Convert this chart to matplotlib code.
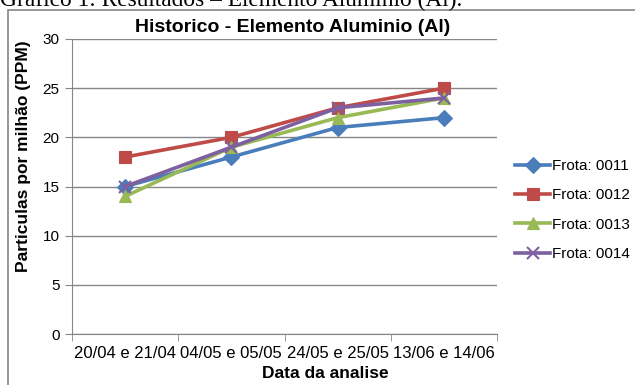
import numpy as np
import matplotlib.pyplot as plt
from matplotlib.patches import Rectangle

# data
datas = ['20/04 e 21/04', '04/05 e 05/05', '24/05 e 25/05', '13/06 e 14/06']
frota_0011 = [15, 18, 21, 22]
frota_0012 = [18, 20, 23, 25]
frota_0013 = [14, 19, 22, 24]
frota_0014 = [15, 19, 23, 24]
nomes = ['Frota: 0011', 'Frota: 0012', 'Frota: 0013', 'Frota: 0014']
yticks = [0, 5, 10, 15, 20, 25, 30]

W, H = 635, 385
fig = plt.figure(figsize=(W / 100, H / 100), dpi=100)
plt.rcParams['font.family'] = ['Liberation Sans', 'DejaVu Sans']

def fx(px):
    return px / W

def fy(py):
    return 1 - py / H

# plot area in pixels: left 72, right 497, top 39, bottom 334
ax = fig.add_axes([fx(72), fy(334), fx(497) - fx(72), fy(39) - fy(334)])

grey = '#868686'
cores = ['#4A7EBB', '#BE4B48', '#98B954', '#7D60A0']
marcas = ['D', 's', '^', 'x']
tams = [8, 9, 9, 9]

x = np.arange(len(datas))
series = [frota_0011, frota_0012, frota_0013, frota_0014]
for s, nome, c, m, ms in zip(series, nomes, cores, marcas, tams):
    ax.plot(x, s, color=c, lw=2.6, marker=m, markersize=ms,
            markeredgewidth=1.5 if m == 'x' else 0.8, label=nome, zorder=3)

ax.set_xlim(-0.5, len(datas) - 0.5)
ax.set_ylim(0, 30)
ax.set_yticks(yticks)
ax.set_xticks(x)
ax.set_xticklabels(datas, fontsize=12)
ax.set_xticks(np.arange(-0.5, len(datas), 1), minor=True)
ax.tick_params(axis='x', which='major', length=0, pad=9)
ax.tick_params(axis='x', which='minor', length=5, color=grey, direction='out')
ax.tick_params(axis='y', length=5, color=grey, direction='out', labelsize=11, pad=4)
ax.grid(axis='y', color=grey, lw=1)
ax.set_axisbelow(True)
for side in ['top', 'right']:
    ax.spines[side].set_visible(False)
ax.spines['left'].set_color(grey)
ax.spines['bottom'].set_color(grey)

# legend: handles start at x=515 px, rows centred near y=210 px
leg = ax.legend(loc='center left', bbox_to_anchor=((515 - 72) / 425, (334 - 210) / 295),
                frameon=False, fontsize=11, handlelength=2.3, handletextpad=0.15,
                labelspacing=1.0, borderaxespad=0, borderpad=0)

fig.text(fx(293), fy(27), 'Historico - Elemento Aluminio (Al)', ha='center',
         va='center', fontsize=14, fontweight='bold')
fig.text(fx(325), fy(373), 'Data da analise', ha='center', va='center',
         fontsize=12.5, fontweight='bold')
fig.text(fx(24), fy(156), 'Particulas por milhão (PPM)', ha='center',
         va='center', rotation=90, fontsize=12.5, fontweight='bold')

# caption above the chart, cut off at the top
fig.text(fx(0), fy(6), 'Gráfico 1: Resultados – Elemento Alumínio (Al).',
         ha='left', va='baseline', fontsize=16.8, family='Liberation Serif')

# chart frame
fig.patches.append(Rectangle((fx(8), -0.2), 1.0, fy(10) + 0.2,
                             transform=fig.transFigure, fill=False,
                             edgecolor=grey, lw=1.2))

fig.savefig('out.png', dpi=100)
